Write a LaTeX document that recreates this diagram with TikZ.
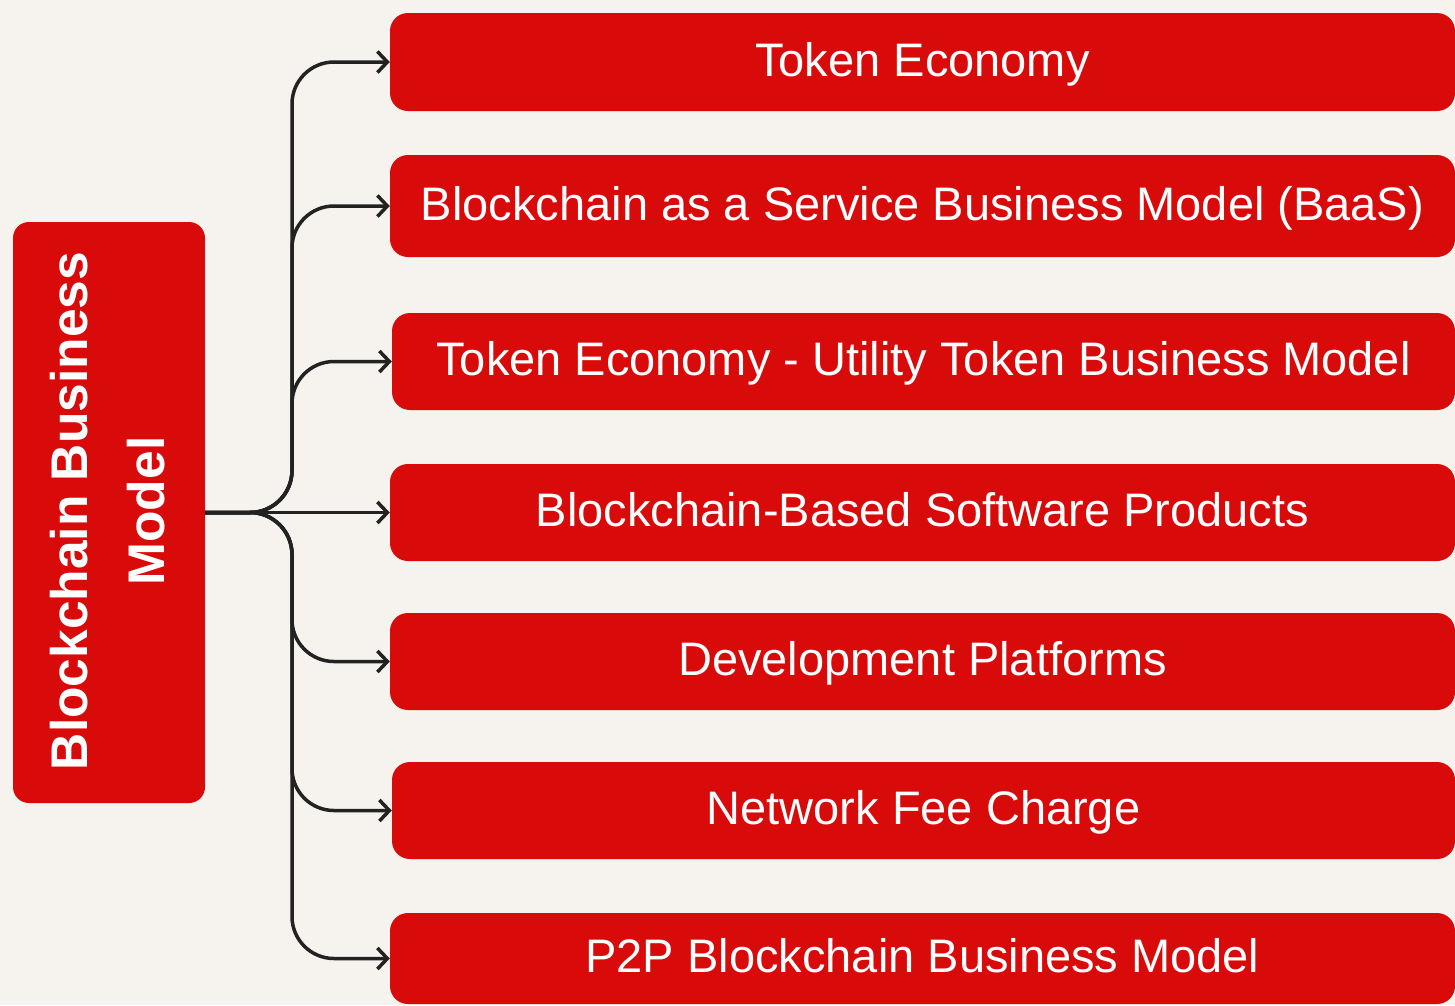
\documentclass[tikz,border=0pt]{standalone}
\usepackage{fontspec}
\setmainfont{Liberation Sans}
\usetikzlibrary{arrows.meta}
\definecolor{boxred}{HTML}{D90A0A}
\definecolor{bgcol}{HTML}{F6F2EE}
\definecolor{linecol}{HTML}{222222}
\tikzset{
  itembox/.style={rectangle, rounded corners=18pt, fill=boxred, text=white,
    inner sep=0pt, text height=33pt, text depth=5pt,
    font=\fontsize{47}{52}\selectfont},
  mainbox/.style={rectangle, rounded corners=16pt, fill=boxred, inner sep=0pt},
  conn/.style={draw=linecol, line width=3.5pt, rounded corners=42pt,
    -{Straight Barb[length=10pt,width=21pt,line width=3.5pt]}},
}
\begin{document}
\begin{tikzpicture}[x=1pt,y=-1pt]
\fill[bgcol] (0,0) rectangle (1455,1005);
\useasboundingbox (0,0) rectangle (1455,1005);

\node[mainbox, minimum width=192pt, minimum height=581pt] (L) at (109,512.5) {};
\node[rotate=90, text=white, align=center,
  font=\bfseries\fontsize{51.5}{77}\selectfont] (Lt) at (108,511) {Blockchain Business\\Model};

\node[itembox, minimum width=1065pt, minimum height=98pt] (b1) at (922.5,62) {Token Economy};
\node[itembox, minimum width=1065pt, minimum height=102pt] (b2) at (922.5,206) {Blockchain as a Service Business Model (BaaS)};
\node[itembox, minimum width=1063pt, minimum height=97pt] (b3) at (923.5,361.5) {Token Economy - Utility Token Business Model};
\node[itembox, minimum width=1065pt, minimum height=97pt] (b4) at (922.5,512.5) {Blockchain-Based Software Products};
\node[itembox, minimum width=1065pt, minimum height=97pt] (b5) at (922.5,661.5) {Development Platforms};
\node[itembox, minimum width=1063pt, minimum height=97pt] (b6) at (923.5,810.5) {Network Fee Charge};
\node[itembox, minimum width=1065pt, minimum height=91pt] (b7) at (922.5,958.5) {P2P Blockchain Business Model};

\coordinate (tr) at (292,512.5);
\draw[conn] (L.east) -- (tr) |- (b1.west);
\draw[conn] (L.east) -- (tr) |- (b2.west);
\draw[conn] (L.east) -- (tr) |- (b3.west);
\draw[conn] (L.east) -- (b4.west);
\draw[conn] (L.east) -- (tr) |- (b5.west);
\draw[conn] (L.east) -- (tr) |- (b6.west);
\draw[conn] (L.east) -- (tr) |- (b7.west);
\end{tikzpicture}
\end{document}
